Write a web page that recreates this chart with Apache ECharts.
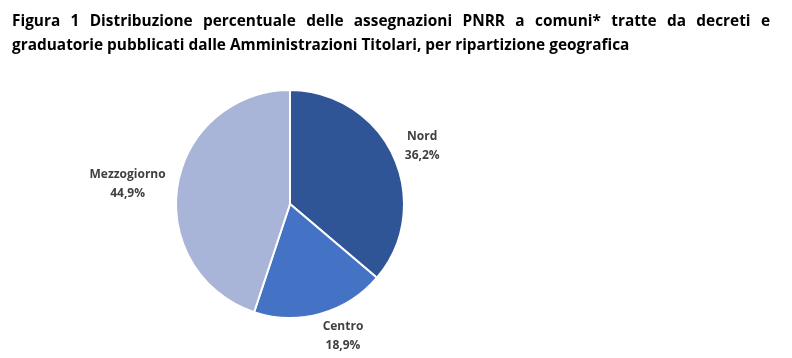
<!DOCTYPE html>
<html><head><meta charset="utf-8">
<script src="https://cdn.jsdelivr.net/npm/echarts@6/dist/echarts.min.js"></script>
<style>html,body{margin:0;padding:0;background:#fff}#c{width:792px;height:358px}</style>
</head><body><div id="c"></div>
<script>
const titleLine1 = "Figura 1 Distribuzione percentuale delle assegnazioni PNRR a comuni* tratte da decreti e";
const titleLine2 = "graduatorie pubblicati dalle Amministrazioni Titolari, per ripartizione geografica";
const categories = ["Nord", "Centro", "Mezzogiorno"];
const values = [36.2, 18.9, 44.9];
const colors = ["#2F5597", "#4472C4", "#A9B4D9"];

const FONT_FAMILY = "'Open Sans', 'DejaVu Sans', sans-serif";
const cv = document.createElement('canvas').getContext('2d');
function w(t, fs){ cv.font = "bold " + fs + "px " + FONT_FAMILY; return cv.measureText(t).width; }
let fs = 16 * 618 / w(titleLine2, 16);
const left = 12, right = 770;
const words = titleLine1.split(" ");
const wordsW = words.reduce((s, x) => s + w(x, fs), 0);
const gap = (right - left - wordsW) / (words.length - 1);
const graphics = [];
let x = left;
words.forEach(word => {
  graphics.push({type:'text', left: x, top: 14, style:{text: word, font: "bold " + fs + "px " + FONT_FAMILY, fill:'#000'}});
  x += w(word, fs) + gap;
});
graphics.push({type:'text', left: left, top: 38, style:{text: titleLine2, font: "bold " + fs + "px " + FONT_FAMILY, fill:'#000'}});

const labelShift = [[-10, -2], [-8, 5], [11, 1]];

const chart = echarts.init(document.getElementById('c'));
chart.setOption({
  animation: false,
  graphic: graphics,
  series: [{
    type: 'pie',
    center: [290, 204],
    radius: 114,
    startAngle: 90,
    clockwise: true,
    data: categories.map((c, i) => ({name: c, value: values[i], itemStyle: {color: colors[i]}})),
    itemStyle: {borderColor: '#fff', borderWidth: 2},
    label: {
      show: true,
      position: 'outside',
      formatter: p => '{a|' + p.name + '}\n{a|' + p.value.toFixed(1).replace('.', ',') + '%}',
      rich: {a: {fontFamily: FONT_FAMILY, fontSize: 12, fontWeight: 'bold', color: '#404040', align: 'center', lineHeight: 19}}
    },
    labelLine: {show: false, length: 18, length2: 0},
    labelLayout: p => ({dx: labelShift[p.dataIndex][0], dy: labelShift[p.dataIndex][1]}),
    emphasis: {disabled: true}
  }]
});
</script></body></html>
